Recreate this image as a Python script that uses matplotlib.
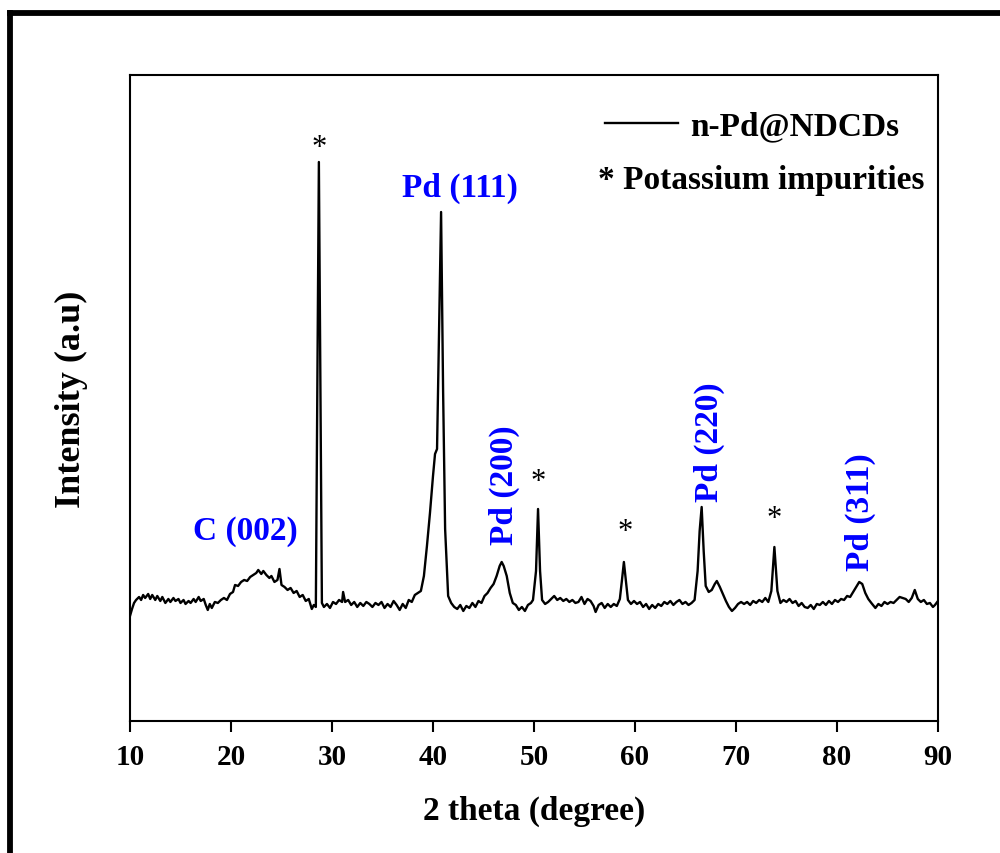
import matplotlib
matplotlib.use("Agg")
import matplotlib.pyplot as plt
from matplotlib.lines import Line2D

plt.rcParams['font.family'] = ['Liberation Serif', 'DejaVu Serif']

# ---- data ----
two_theta = [
    10.0, 10.2, 10.4, 10.6, 10.9, 11.1, 11.3, 11.5, 11.8, 12.0, 12.2, 12.5, 12.7, 13.0, 13.2, 13.5,
    13.8, 14.0, 14.3, 14.5, 14.8, 15.0, 15.3, 15.5, 15.8, 16.0, 16.3, 16.5, 16.8, 17.0, 17.3, 17.5,
    17.7, 17.9, 18.1, 18.4, 18.7, 19.0, 19.3, 19.6, 19.9, 20.2, 20.4, 20.7, 21.0, 21.3, 21.6, 21.9,
    22.2, 22.5, 22.7, 23.0, 23.2, 23.5, 23.8, 24.0, 24.3, 24.6, 24.8, 25.0, 25.3, 25.6, 25.9, 26.2,
    26.5, 26.8, 27.1, 27.4, 27.7, 28.0, 28.2, 28.4, 28.7, 29.0, 29.2, 29.5, 29.8, 30.1, 30.4, 30.7,
    31.0, 31.1, 31.3, 31.6, 31.9, 32.2, 32.5, 32.8, 33.1, 33.4, 33.7, 34.0, 34.3, 34.6, 34.9, 35.2,
    35.5, 35.8, 36.1, 36.4, 36.7, 37.0, 37.3, 37.6, 37.9, 38.2, 38.5, 38.8, 39.1, 39.4, 39.7, 40.0,
    40.2, 40.4, 40.6, 40.8, 41.0, 41.2, 41.5, 41.8, 42.1, 42.4, 42.7, 43.0, 43.3, 43.6, 43.9, 44.2,
    44.5, 44.8, 45.1, 45.4, 45.7, 46.0, 46.3, 46.6, 46.8, 47.0, 47.3, 47.6, 47.9, 48.2, 48.5, 48.8,
    49.1, 49.4, 49.7, 49.9, 50.2, 50.4, 50.6, 50.8, 51.1, 51.4, 51.7, 52.0, 52.3, 52.6, 52.9, 53.2,
    53.5, 53.8, 54.1, 54.4, 54.7, 55.0, 55.3, 55.6, 55.9, 56.1, 56.4, 56.7, 57.0, 57.3, 57.6, 57.9,
    58.2, 58.5, 58.7, 58.9, 59.1, 59.3, 59.6, 59.9, 60.2, 60.5, 60.8, 61.1, 61.4, 61.7, 62.0, 62.3,
    62.6, 62.9, 63.2, 63.5, 63.8, 64.1, 64.4, 64.7, 65.0, 65.3, 65.6, 65.9, 66.2, 66.4, 66.6, 66.8,
    67.0, 67.3, 67.6, 67.9, 68.1, 68.4, 68.7, 69.0, 69.3, 69.6, 69.9, 70.2, 70.5, 70.8, 71.1, 71.4,
    71.7, 72.0, 72.3, 72.6, 72.9, 73.2, 73.5, 73.8, 74.1, 74.4, 74.7, 75.0, 75.3, 75.6, 75.9, 76.2,
    76.5, 76.8, 77.1, 77.4, 77.7, 78.0, 78.3, 78.6, 78.9, 79.2, 79.5, 79.8, 80.1, 80.4, 80.7, 81.0,
    81.3, 81.6, 81.9, 82.2, 82.5, 82.8, 83.1, 83.4, 83.8, 84.1, 84.4, 84.7, 85.0, 85.3, 85.6, 85.9,
    86.2, 86.5, 86.8, 87.1, 87.4, 87.7, 88.0, 88.3, 88.6, 88.9, 89.2, 89.5, 89.7, 90.0,
]
intensity = [
    105, 112, 118, 121, 124, 121, 126, 123, 127, 122, 126, 121, 125, 120, 124, 118,
    122, 119, 123, 120, 122, 118, 121, 117, 120, 118, 122, 119, 124, 120, 122, 116,
    111, 117, 113, 119, 118, 121, 123, 121, 127, 129, 136, 135, 139, 141, 140, 144,
    146, 148, 151, 147, 150, 146, 143, 145, 139, 141, 152, 136, 134, 131, 133, 128,
    130, 124, 126, 120, 122, 112, 116, 114, 559, 118, 114, 117, 113, 119, 117, 121,
    119, 129, 119, 121, 116, 119, 114, 118, 115, 119, 117, 114, 118, 116, 119, 113,
    117, 114, 120, 116, 111, 117, 113, 121, 119, 126, 128, 130, 145, 175, 208, 245,
    267, 272, 390, 509, 330, 192, 125, 118, 114, 112, 116, 110, 115, 113, 118, 114,
    120, 118, 125, 128, 133, 137, 145, 155, 159, 155, 145, 128, 118, 116, 111, 114,
    110, 116, 118, 121, 150, 212, 150, 121, 117, 119, 122, 125, 121, 123, 120, 122,
    119, 121, 118, 119, 124, 117, 122, 120, 115, 109, 116, 118, 113, 117, 114, 117,
    115, 122, 140, 159, 140, 121, 117, 120, 117, 119, 114, 117, 112, 116, 113, 117,
    115, 119, 117, 120, 116, 119, 121, 117, 119, 116, 118, 121, 150, 190, 214, 170,
    135, 129, 131, 137, 140, 134, 127, 120, 114, 110, 113, 117, 119, 117, 119, 116,
    120, 118, 121, 119, 123, 119, 130, 174, 130, 118, 121, 119, 122, 118, 120, 115,
    118, 114, 113, 116, 112, 117, 116, 119, 116, 120, 117, 121, 119, 122, 121, 125,
    124, 129, 134, 139, 137, 128, 122, 118, 113, 117, 115, 119, 117, 119, 118, 121,
    124, 123, 122, 119, 123, 131, 122, 119, 121, 117, 118, 114, 116, 120,
]

series_label = "n-Pd@NDCDs"
impurity_label = "* Potassium impurities"

# peak labels (blue): text, x, y, rotation
peak_texts = ["C (002)", "Pd (111)", "Pd (200)", "Pd (220)", "Pd (311)"]
peak_x = [21.4, 42.7, 47.1, 67.4, 82.3]
peak_y = [190, 534, 237, 280, 210]
peak_rot = [0, 0, 90, 90, 90]

# impurity markers (*)
star_x = [28.7, 50.4, 59.0, 73.8]
star_y = [574, 239, 189, 202]

x_ticks = [10, 20, 30, 40, 50, 60, 70, 80, 90]

# ---- figure ----
fig = plt.figure(figsize=(10.0, 8.54), dpi=100)
fig.patch.set_facecolor('white')
ax = fig.add_axes([0.130, 0.1546, 0.808, 0.7564])

line, = ax.plot(two_theta, intensity, color='black', lw=1.7, label=series_label)

ax.set_xlim(10, 90)
ax.set_ylim(0, 646)
ax.set_xticks(x_ticks)
ax.set_yticks([])
ax.tick_params(axis='x', direction='out', length=8, width=1.5, pad=8,
               labelsize=21)
for lab in ax.get_xticklabels():
    lab.set_fontweight('bold')
for sp in ax.spines.values():
    sp.set_linewidth(1.5)

ax.set_xlabel("2 theta (degree)", fontsize=24, fontweight='bold', labelpad=18)
ax.set_ylabel("Intensity (a.u)", fontsize=26, fontweight='bold', labelpad=30)

for t, x, y, r in zip(peak_texts, peak_x, peak_y, peak_rot):
    ax.text(x, y, t, color='#0000ff', fontsize=24, fontweight='bold',
            rotation=r, ha='center', va='center')

for x, y in zip(star_x, star_y):
    ax.text(x, y, "*", color='black', fontsize=22, ha='center', va='center')

leg = ax.legend(handles=[line], loc='center left',
                bbox_to_anchor=(0.588, 0.921), frameon=False,
                borderpad=0, borderaxespad=0, handlelength=2.2,
                handletextpad=0.35,
                prop={'family': 'Liberation Serif', 'weight': 'bold', 'size': 24})

ax.text(0.579, 0.838, impurity_label, transform=ax.transAxes,
        fontsize=24, fontweight='bold', ha='left', va='center')

# outer black frame (left and top edges)
fig.add_artist(Line2D([0.0095, 0.0095], [0.0, 0.9835], transform=fig.transFigure,
                      color='black', lw=4.2, solid_capstyle='projecting'))
fig.add_artist(Line2D([0.0095, 1.0], [0.9835, 0.9835], transform=fig.transFigure,
                      color='black', lw=4.2, solid_capstyle='projecting'))

fig.savefig("out.png", dpi=100, facecolor='white')
